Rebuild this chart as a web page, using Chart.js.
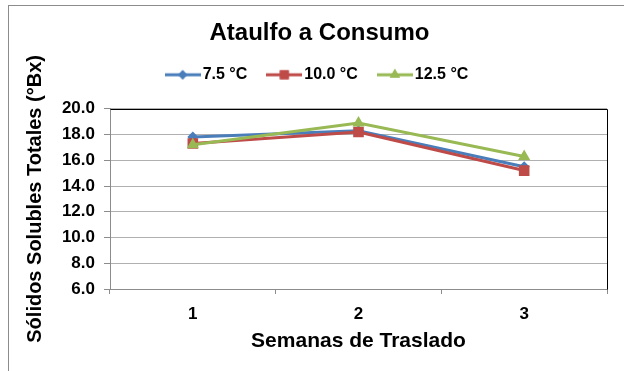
<!DOCTYPE html>
<html>
<head>
<meta charset="utf-8">
<script src="https://cdn.jsdelivr.net/npm/chart.js@4/dist/chart.umd.min.js"></script>
<style>
  html, body { margin: 0; padding: 0; background: #fff; }
  #wrap { width: 624px; height: 371px; }
</style>
</head>
<body>
<div id="wrap"><canvas id="chart" width="624" height="371"></canvas></div>
<script>
const semanas = ['1', '2', '3'];
const serie75 = [17.8, 18.3, 15.5];
const serie100 = [17.3, 18.2, 15.2];
const serie125 = [17.2, 18.9, 16.3];
const nombres = ['7.5 °C', '10.0 °C', '12.5 °C'];

const azul = '#4A7EBB';
const rojo = '#BE4B48';
const verde = '#98B954';
const fuente = "'Liberation Sans', Arial, sans-serif";

// little line + marker image for each legend entry
const legendIcon = (color, style, radius) => {
    let c = document.createElement('canvas');
    c.width = 36;
    c.height = 16;
    let ctx = c.getContext('2d');
    ctx.strokeStyle = color;
    ctx.lineWidth = 3;
    ctx.beginPath();
    ctx.moveTo(0, 8);
    ctx.lineTo(36, 8);
    ctx.stroke();
    ctx.fillStyle = color;
    Chart.helpers.drawPoint(ctx, {pointStyle: style, radius: radius, borderWidth: 0}, 18, 8);
    ctx.fill();
    return c;
}

const fondo = {
    id: 'fondo',
    beforeInit(chart) {
        // leave room between the legend and the plot
        const fit = chart.legend.fit;
        chart.legend.fit = function () {
            fit.call(this);
            this.height += 16;
        };
    },
    beforeDraw(chart) {
        let ctx = chart.ctx;
        ctx.save();
        ctx.fillStyle = '#fff';
        ctx.fillRect(0, 0, chart.width, chart.height);
        ctx.strokeStyle = '#8c8c8c';
        ctx.lineWidth = 1;
        ctx.strokeRect(8.5, 5.5, 700, 500);
        ctx.restore();
    },
    beforeDatasetsDraw(chart) {
        let a = chart.chartArea;
        let ctx = chart.ctx;
        ctx.save();
        ctx.strokeStyle = '#000';
        ctx.lineWidth = 1;
        ctx.beginPath();
        ctx.moveTo(Math.round(a.left) + 0.5, Math.round(a.top) + 0.5);
        ctx.lineTo(Math.round(a.right) + 0.5, Math.round(a.top) + 0.5);
        ctx.lineTo(Math.round(a.right) + 0.5, Math.round(a.bottom) + 0.5);
        ctx.stroke();
        ctx.restore();
    }
};

const config = {
    type: 'line',
    data: {
        labels: semanas,
        datasets: [
            {label: nombres[0], data: serie75, borderColor: azul, backgroundColor: azul, pointStyle: 'rectRot', pointRadius: 5.5, order: 3},
            {label: nombres[1], data: serie100, borderColor: rojo, backgroundColor: rojo, pointStyle: 'rect', pointRadius: 7.5, order: 2},
            {label: nombres[2], data: serie125, borderColor: verde, backgroundColor: verde, pointStyle: 'triangle', pointRadius: 7, order: 1}
        ].map(d => Object.assign(d, {borderWidth: 3, pointBorderWidth: 0, pointHoverRadius: d.pointRadius, tension: 0}))
    },
    options: {
        responsive: false,
        animation: false,
        events: [],
        layout: {padding: {left: 32, right: 17, top: 0, bottom: 0}},
        plugins: {
            tooltip: {enabled: false},
            title: {
                display: true,
                text: 'Ataulfo a Consumo',
                color: '#000',
                font: {family: fuente, size: 24, weight: 'bold'},
                padding: {top: 19, bottom: -6}
            },
            legend: {
                display: true,
                labels: {
                    color: '#000',
                    font: {family: fuente, size: 16, weight: 'bold'},
                    usePointStyle: true,
                    pointStyleWidth: 24,
                    padding: 25,
                    generateLabels: (chart) => chart.data.datasets.map((ds, i) => ({
                        text: ds.label,
                        fontColor: '#000',
                        pointStyle: legendIcon(ds.borderColor, ds.pointStyle, ds.pointRadius * 0.85),
                        lineWidth: 0,
                        datasetIndex: i
                    }))
                }
            }
        },
        scales: {
            x: {
                offset: true,
                grid: {offset: true, drawOnChartArea: false, color: '#8c8c8c', tickColor: '#8c8c8c', tickLength: 5},
                border: {color: '#8c8c8c', width: 1},
                ticks: {color: '#000', font: {family: fuente, size: 17, weight: 'bold'}, padding: 10},
                title: {
                    display: true,
                    text: 'Semanas de Traslado',
                    color: '#000',
                    font: {family: fuente, size: 21, weight: 'bold'},
                    padding: {top: 0, bottom: 17}
                },
                afterFit: (scale) => { scale.height = 82; }
            },
            y: {
                min: 6,
                max: 20,
                grid: {color: '#b0b0b0', tickColor: '#8c8c8c', tickLength: 6},
                border: {color: '#8c8c8c', width: 1},
                ticks: {
                    stepSize: 2,
                    color: '#000',
                    font: {family: fuente, size: 17, weight: 'bold'},
                    padding: 9,
                    callback: (v) => v.toFixed(1)
                },
                title: {
                    display: true,
                    text: 'Sólidos Solubles Totales (°Bx)',
                    color: '#000',
                    font: {family: fuente, size: 20, weight: 'bold'},
                    padding: {top: -8.5, bottom: 0}
                },
                afterFit: (scale) => { scale.width = 78; }
            }
        }
    },
    plugins: [fondo]
};

const grafica = new Chart(document.getElementById('chart'), config);
</script>
</body>
</html>
